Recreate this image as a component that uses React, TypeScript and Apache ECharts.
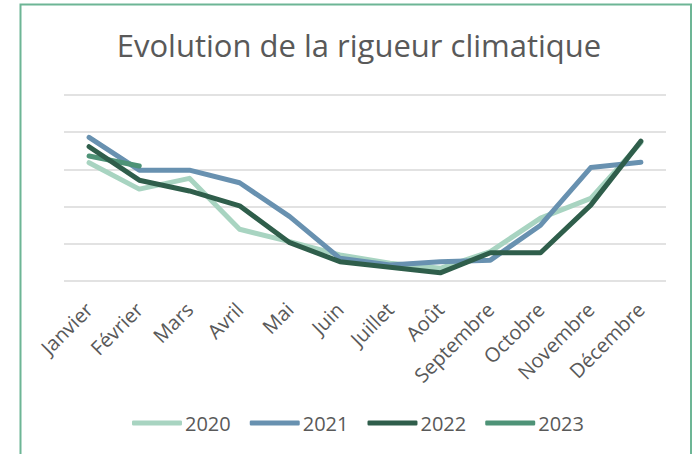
import React, { useEffect, useRef } from "react";
import * as echarts from "echarts";

const months = ["Janvier", "Février", "Mars", "Avril", "Mai", "Juin", "Juillet", "Août", "Septembre", "Octobre", "Novembre", "Décembre"];
const s2020 = [318, 247, 276, 139, 106, 70, 48, 34, 79, 169, 222, 372];
const s2021 = [386, 298, 298, 264, 173, 61, 43, 52, 56, 150, 305, 319];
const s2022 = [361, 271, 242, 202, 103, 52, 37, 22, 76, 76, 204, 376];
const s2023 = [336, 309];
const years = ["2020", "2021", "2022", "2023"];
const colors = ["#A8D4C1", "#6891B0", "#2F5E4B", "#4E9377"];

export default function App() {
  const ref = useRef<HTMLDivElement>(null);
  useEffect(() => {
    const chart = echarts.init(ref.current!, null, { renderer: "svg" });
    const seriesData = [s2020, s2021, s2022, s2023];
    chart.setOption({
      animation: false,
      backgroundColor: "#ffffff",
      title: {
        text: "Evolution de la rigueur climatique",
        left: 354,
        textAlign: "center",
        top: 24,
        textStyle: { fontFamily: "Open Sans", fontSize: 31, fontWeight: "normal", color: "#595959" },
      },
      graphic: [
        {
          type: "rect",
          shape: { x: 20.5, y: 4.5, width: 670.5, height: 520 },
          style: { fill: "none", stroke: "#6DB595", lineWidth: 2 },
          z: 100,
        },
      ],
      legend: {
        data: years,
        bottom: 16,
        left: 127,
        icon: "roundRect",
        itemWidth: 50,
        itemHeight: 5,
        itemGap: 19,
        textStyle: { fontFamily: "Open Sans", fontSize: 20, color: "#595959", padding: [0, 0, 0, -2] },
      },
      grid: { left: 64, right: 31, top: 95, bottom: 173 },
      xAxis: {
        type: "category",
        data: months,
        boundaryGap: true,
        axisLine: { show: false },
        axisTick: { show: false },
        axisLabel: {
          rotate: 45,
          interval: 0,
          margin: 25,
          fontFamily: "Open Sans",
          fontSize: 20,
          color: "#595959",
        },
      },
      yAxis: {
        type: "value",
        min: 0,
        max: 500,
        interval: 100,
        axisLabel: { show: false },
        axisLine: { show: false },
        axisTick: { show: false },
        splitLine: { lineStyle: { color: "#D9D9D9", width: 1.5 } },
      },
      series: years.map((y, i) => ({
        name: y,
        type: "line",
        data: seriesData[i],
        symbol: "none",
        color: colors[i],
        lineStyle: { width: 5, color: colors[i], cap: "round", join: "round" },
        z: i === 0 ? 1 : i === 1 ? 2 : i === 2 ? 4 : 3,
      })),
    });
    return () => chart.dispose();
  }, []);
  return (
    <div
      ref={ref}
      style={{ position: "fixed", left: 0, top: 0, width: 697, height: 454 }}
    />
  );
}
